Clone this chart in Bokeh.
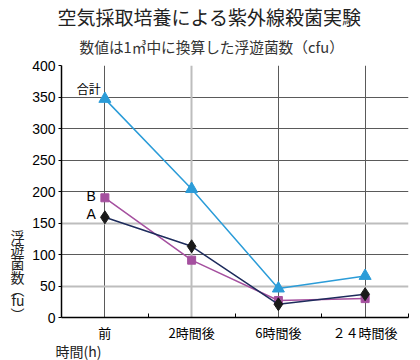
from bokeh.plotting import figure
from bokeh.models import Range1d, FixedTicker, Grid, Label, Title, LinearAxis
from bokeh.embed import file_html
from bokeh.resources import INLINE

categories = ["前", "2時間後", "6時間後", "２４時間後"]
total = [347, 204, 46, 66]
series_b = [190, 91, 27, 30]
series_a = [159, 113, 21, 37]
y_ticks = [0, 50, 100, 150, 200, 250, 300, 350, 400]

title_text = "空気採取培養による紫外線殺菌実験"
subtitle_text = "数値は1㎥中に換算した浮遊菌数（cfu）"
y_title_chars = ["浮", "遊", "菌", "数", "︵", "fu", "︶"]
x_title_text = "時間(h)"

JP = "Noto Sans CJK JP"
x = [i + 0.5 for i in range(len(categories))]

p = figure(frame_width=347, frame_height=252,
           x_range=Range1d(0, len(categories)), y_range=Range1d(0, 400),
           output_backend="svg", toolbar_location=None, title=None,
           min_border_left=61, min_border_right=12, min_border_top=65, min_border_bottom=43)
p.outline_line_color = None

# x axis
p.xaxis.ticker = FixedTicker(ticks=x, minor_ticks=[1, 2, 3, 4])
p.xaxis.major_label_overrides = {xi: c for xi, c in zip(x, categories)}
p.xaxis.major_tick_line_color = None
p.xaxis.major_tick_in = 0
p.xaxis.major_tick_out = 0
p.xaxis.minor_tick_in = 4
p.xaxis.minor_tick_out = 0
p.xaxis.minor_tick_line_color = "black"
p.xaxis.axis_line_color = "black"
p.xaxis.axis_line_width = 1.5
p.xaxis.major_label_text_font = JP
p.xaxis.major_label_text_font_size = "13px"
p.xaxis.major_label_text_color = "black"
p.xaxis.major_label_standoff = 5

# y axis
p.yaxis.ticker = FixedTicker(ticks=y_ticks)
p.yaxis.major_tick_in = 0
p.yaxis.major_tick_out = 3
p.yaxis.major_tick_line_color = "black"
p.yaxis.minor_tick_line_color = None
p.yaxis.axis_line_color = "black"
p.yaxis.axis_line_width = 1.5
p.yaxis.major_label_text_font = "Liberation Sans"
p.yaxis.major_label_text_font_size = "14px"
p.yaxis.major_label_text_color = "black"
p.yaxis.major_label_standoff = 3

# vertical y-axis title: characters stacked as labels of an extra left axis
y_title_pos = [130, 108, 86, 65, 46, 27, 5]
ytitle_axis = LinearAxis(ticker=FixedTicker(ticks=y_title_pos),
                         major_label_overrides={v: c for v, c in zip(y_title_pos, y_title_chars)},
                         axis_line_color=None, major_tick_line_color=None,
                         minor_tick_line_color=None, major_tick_out=0, major_tick_in=0,
                         minor_tick_out=0, minor_tick_in=0, major_label_standoff=5,
                         major_label_orientation="horizontal",
                         major_label_text_font=JP, major_label_text_font_size="14px",
                         major_label_text_color="#222222")
p.add_layout(ytitle_axis, "left")

# grids
dark, light = "#5a5a5a", "#bdbdbd"
p.xgrid.ticker = FixedTicker(ticks=[x[0], x[2], x[3]])
p.xgrid.grid_line_color = dark
p.xgrid.grid_line_width = 1
p.add_layout(Grid(dimension=0, ticker=FixedTicker(ticks=[x[1]]),
                  grid_line_color=light, grid_line_width=2))
p.ygrid.ticker = FixedTicker(ticks=[t for t in y_ticks if t not in (50, 150)])
p.ygrid.grid_line_color = dark
p.ygrid.grid_line_width = 1
p.add_layout(Grid(dimension=1, ticker=FixedTicker(ticks=[50, 150]),
                  grid_line_color=light, grid_line_width=2))

# series
cb, cm, cn = "#2b9cd8", "#a5509f", "#1d2b5c"
p.line(x, series_b, line_color=cm, line_width=1.5)
p.scatter(x, series_b, marker="square", size=8, fill_color=cm, line_color=cm)
p.line(x, series_a, line_color=cn, line_width=1.5)
p.scatter(x, series_a, marker="diamond", size=13, fill_color="#1a1a1a", line_color="#1a1a1a")
p.line(x, total, line_color=cb, line_width=1.5)
p.scatter(x, total, marker="triangle", size=12, fill_color=cb, line_color=cb)

# series labels
p.add_layout(Label(x=x[0], y=total[0], text="合計", text_font=JP, text_font_size="12px",
                   text_color="black", text_align="right", text_baseline="bottom",
                   x_offset=-4, y_offset=2))
p.add_layout(Label(x=x[0], y=series_b[0], text="B", text_font="Liberation Sans",
                   text_font_size="14px", text_color="black", text_align="right",
                   text_baseline="middle", x_offset=-9, y_offset=2))
p.add_layout(Label(x=x[0], y=series_a[0], text="A", text_font="Liberation Sans",
                   text_font_size="14px", text_color="black", text_align="right",
                   text_baseline="middle", x_offset=-9, y_offset=3))

# titles (panels above; first added is nearest the frame)
p.add_layout(Title(text=subtitle_text, align="left", offset=18, text_font=JP,
                   text_font_size="14.7px", text_font_style="normal", text_color="#333333",
                   standoff=17), "above")
p.add_layout(Title(text=title_text, align="left", offset=-4, text_font=JP,
                   text_font_size="19px", text_font_style="normal", text_color="#222222",
                   standoff=-8), "above")

# x title below
p.add_layout(Title(text=x_title_text, align="left", offset=-6, text_font=JP,
                   text_font_size="14px", text_font_style="normal", text_color="#222222",
                   standoff=-12), "below")

open("out.html", "w").write(file_html(p, INLINE))
